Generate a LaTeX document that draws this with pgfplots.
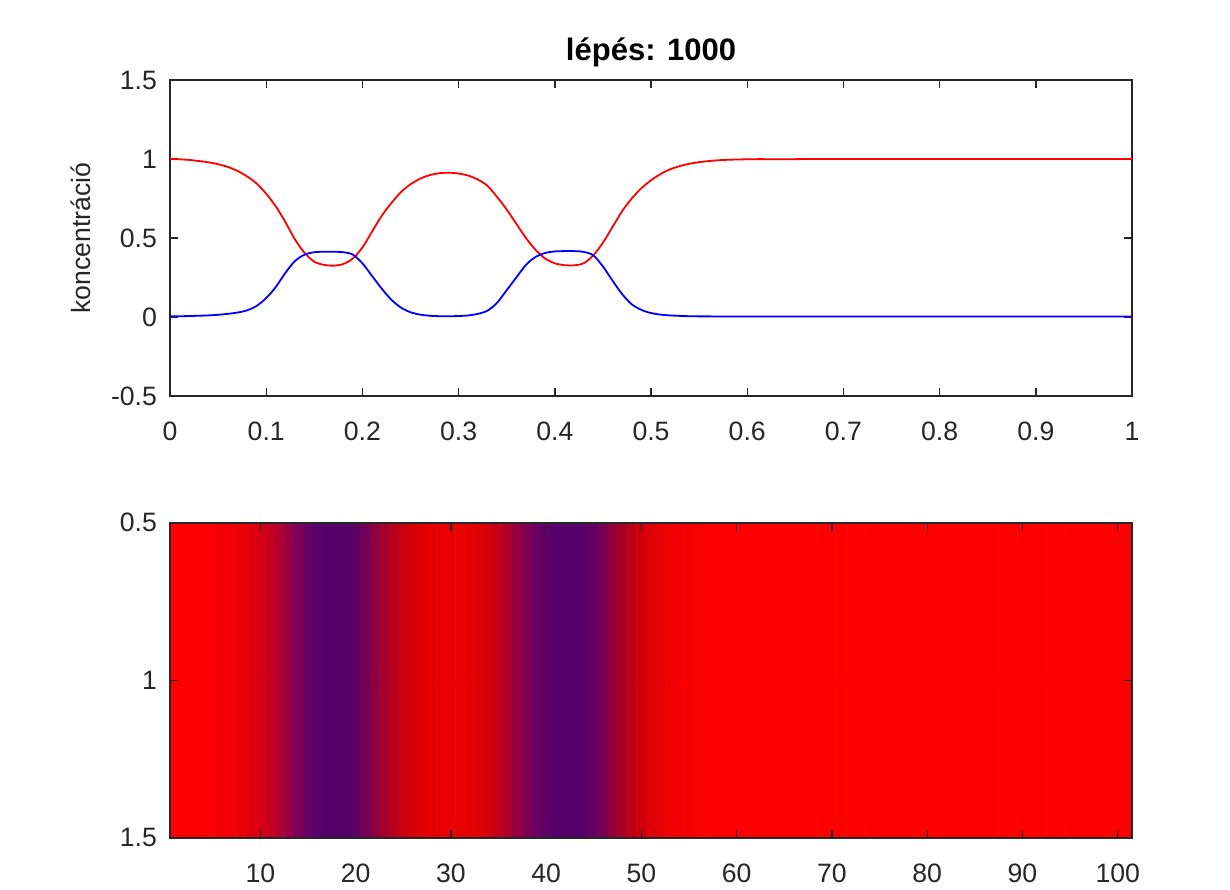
\documentclass[border=0pt]{standalone}
\usepackage{fontspec}
\setmainfont{Liberation Sans}
\usepackage{pgfplots}
\usepackage{pgfplotstable}
\pgfplotsset{compat=1.18}
\definecolor{axgray}{RGB}{38,38,38}
\pgfplotstableread{
i x u v
1 0.00 1.000 0.005
2 0.01 0.998 0.005
3 0.02 0.994 0.006
4 0.03 0.987 0.008
5 0.04 0.979 0.010
6 0.05 0.967 0.014
7 0.06 0.950 0.020
8 0.07 0.925 0.028
9 0.08 0.890 0.042
10 0.09 0.845 0.070
11 0.10 0.780 0.120
12 0.11 0.700 0.190
13 0.12 0.600 0.280
14 0.13 0.490 0.355
15 0.14 0.405 0.395
16 0.15 0.350 0.410
17 0.16 0.330 0.413
18 0.17 0.325 0.413
19 0.18 0.335 0.410
20 0.19 0.370 0.395
21 0.20 0.440 0.340
22 0.21 0.540 0.260
23 0.22 0.640 0.180
24 0.23 0.720 0.110
25 0.24 0.790 0.060
26 0.25 0.840 0.030
27 0.26 0.875 0.015
28 0.27 0.898 0.008
29 0.28 0.910 0.005
30 0.29 0.913 0.005
31 0.30 0.908 0.006
32 0.31 0.895 0.010
33 0.32 0.870 0.020
34 0.33 0.830 0.040
35 0.34 0.760 0.090
36 0.35 0.680 0.170
37 0.36 0.590 0.250
38 0.37 0.500 0.330
39 0.38 0.425 0.380
40 0.39 0.370 0.405
41 0.40 0.340 0.415
42 0.41 0.328 0.417
43 0.42 0.327 0.417
44 0.43 0.340 0.412
45 0.44 0.390 0.390
46 0.45 0.470 0.320
47 0.46 0.570 0.230
48 0.47 0.670 0.145
49 0.48 0.750 0.080
50 0.49 0.815 0.045
51 0.50 0.865 0.025
52 0.51 0.905 0.015
53 0.52 0.935 0.010
54 0.53 0.955 0.007
55 0.54 0.970 0.005
56 0.55 0.980 0.004
57 0.56 0.987 0.004
58 0.57 0.992 0.003
59 0.58 0.995 0.003
60 0.59 0.997 0.003
61 0.60 0.998 0.003
62 0.61 0.999 0.003
63 0.62 0.999 0.003
64 0.63 0.999 0.003
65 0.64 0.999 0.003
66 0.65 0.999 0.003
67 0.66 1.000 0.003
68 0.67 1.000 0.003
69 0.68 1.000 0.003
70 0.69 1.000 0.003
71 0.70 1.000 0.003
72 0.71 1.000 0.003
73 0.72 1.000 0.003
74 0.73 1.000 0.003
75 0.74 1.000 0.003
76 0.75 1.000 0.003
77 0.76 1.000 0.003
78 0.77 1.000 0.003
79 0.78 1.000 0.003
80 0.79 1.000 0.003
81 0.80 1.000 0.003
82 0.81 1.000 0.003
83 0.82 1.000 0.003
84 0.83 1.000 0.003
85 0.84 1.000 0.003
86 0.85 1.000 0.003
87 0.86 1.000 0.003
88 0.87 1.000 0.003
89 0.88 1.000 0.003
90 0.89 1.000 0.003
91 0.90 1.000 0.003
92 0.91 1.000 0.003
93 0.92 1.000 0.003
94 0.93 1.000 0.003
95 0.94 1.000 0.003
96 0.95 1.000 0.003
97 0.96 1.000 0.003
98 0.97 1.000 0.003
99 0.98 1.000 0.003
100 0.99 1.000 0.003
101 1.00 1.000 0.003
}\data
% two identical rows of the image (y = 0.75 and y = 1.25)
\pgfplotstablevertcat{\imgrows}{\data}
\pgfplotstablevertcat{\imgrows}{\data}

\begin{document}
\begin{tikzpicture}[x=1pt,y=1pt]
\path[use as bounding box] (0,0) rectangle (615,444.5);
\pgfplotsset{every axis/.append style={
  scale only axis, width=481pt, anchor=south west,
  axis line style={axgray, line width=0.8pt},
  every tick/.style={axgray, line width=0.7pt},
  major tick length=4pt,
  tick align=inside,
  xtick pos=both, ytick pos=both,
  ticklabel style={font=\fontsize{13.3}{15}\selectfont, text=axgray},
  xticklabel style={yshift=-9.5pt},
  yticklabel style={xshift=-3pt},
  /pgf/number format/assume math mode=true,
  enlargelimits=false,
}}
\begin{axis}[
  at={(85pt,246.5pt)}, height=158pt,
  xmin=0, xmax=1, ymin=-0.5, ymax=1.5,
  xtick={0,0.1,0.2,0.3,0.4,0.5,0.6,0.7,0.8,0.9,1},
  ytick={-0.5,0,0.5,1,1.5},
  title={lépés: 1000},
  title style={font=\bfseries\fontsize{15.5}{18}\selectfont, at={(axis description cs:0.5,1)}, anchor=base, yshift=3.5pt},
  ylabel={koncentráció},
  ylabel style={font=\fontsize{13.3}{15}\selectfont, text=axgray, at={(axis description cs:-0.093,0.5)}, anchor=center},
]
\addplot[red, line width=0.9pt, smooth] table[x=x, y=u] {\data};
\addplot[blue, line width=0.9pt, smooth] table[x=x, y=v] {\data};
\end{axis}
\begin{axis}[
  at={(85pt,25.65pt)}, height=157.5pt,
  xmin=0.5, xmax=101.5, ymin=0.5, ymax=1.5, y dir=reverse,
  xtick={10,20,30,40,50,60,70,80,90,100},
  ytick={0.5,1,1.5},
  axis on top,
]
\addplot[matrix plot*, mesh/cols=101, mesh/rows=2, mesh/color input=explicit mathparse,
  point meta={symbolic={\thisrow{u},0,\thisrow{v}}}]
  table[x=i, y expr={ifthenelse(\coordindex<101,0.75,1.25)}] {\imgrows};
\end{axis}
\end{tikzpicture}
\end{document}
